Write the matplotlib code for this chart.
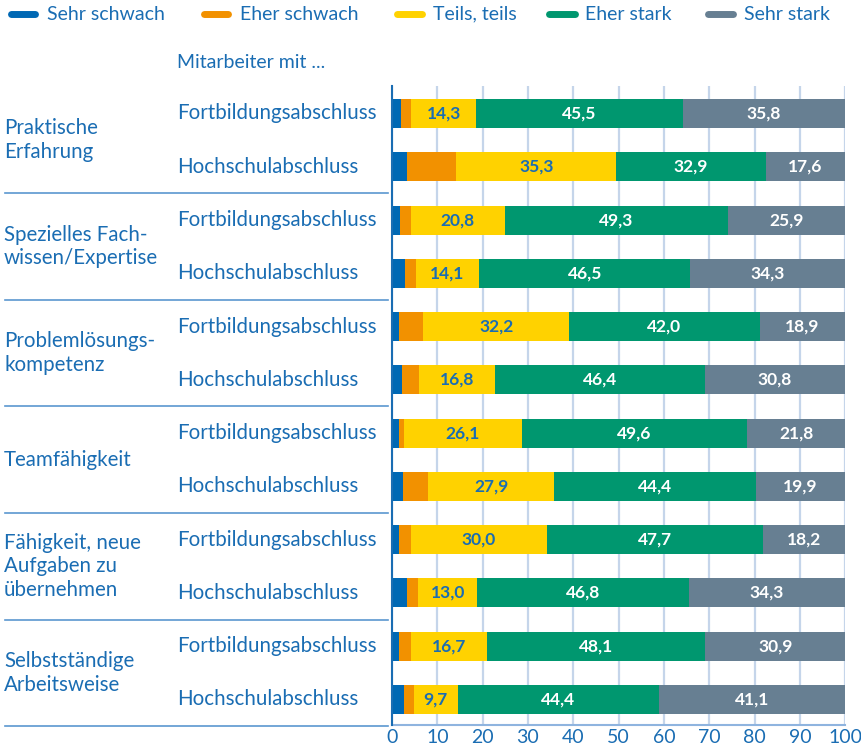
import matplotlib
matplotlib.use("Agg")
import matplotlib.pyplot as plt
from matplotlib.transforms import blended_transform_factory
from matplotlib.lines import Line2D
import numpy as np

plt.rcParams['font.family'] = ['Lato', 'DejaVu Sans']

categories = ["Sehr schwach", "Eher schwach", "Teils, teils", "Eher stark", "Sehr stark"]
groups = ["Praktische\nErfahrung", "Spezielles Fach-\nwissen/Expertise", "Problemlösungs-\nkompetenz",
          "Teamfähigkeit", "Fähigkeit, neue\nAufgaben zu\nübernehmen", "Selbstständige\nArbeitsweise"]
sublabels = ["Fortbildungsabschluss", "Hochschulabschluss"]

sehr_schwach = [1.9, 3.2, 1.7, 2.8, 1.6, 2.1, 1.5, 2.4, 1.5, 3.2, 1.5, 2.7]
eher_schwach = [2.4, 11.0, 2.4, 2.4, 5.3, 3.8, 1.1, 5.5, 2.6, 2.6, 2.8, 2.1]
teils_teils = [14.3, 35.3, 20.8, 14.1, 32.2, 16.8, 26.1, 27.9, 30.0, 13.0, 16.7, 9.7]
eher_stark = [45.5, 32.9, 49.3, 46.5, 42.0, 46.4, 49.6, 44.4, 47.7, 46.8, 48.1, 44.4]
sehr_stark = [35.8, 17.6, 25.9, 34.3, 18.9, 30.8, 21.8, 19.9, 18.2, 34.3, 30.9, 41.1]

xticks = [0, 10, 20, 30, 40, 50, 60, 70, 80, 90, 100]

colors = ["#0068b4", "#f29100", "#ffd200", "#00976f", "#677f92"]
label_colors = [None, None, "#1a6db3", "white", "white"]
TXT = "#1a6db3"

W, H = 861, 751
fig = plt.figure(figsize=(W / 100, H / 100), dpi=100)
ax = fig.add_axes([392 / W, 1 - 725 / H, (845.3 - 392) / W, (725 - 86) / H])

series = [sehr_schwach, eher_schwach, teils_teils, eher_stark, sehr_stark]
n = len(teils_teils)
y = np.arange(n)
left = np.zeros(n)
for vals, col, lc in zip(series, colors, label_colors):
    vals = np.array(vals)
    ax.barh(y, vals, left=left, height=0.545, color=col, zorder=3)
    if lc is not None:
        for yi, (l, v) in enumerate(zip(left, vals)):
            ax.text(l + v / 2, yi, f"{v:.1f}".replace(".", ","), ha="center", va="center",
                    color=lc, fontsize=12.5, fontweight="bold", zorder=4)
    left = left + vals

ax.set_xlim(0, 100)
ax.set_ylim(11.48, -0.516)
ax.set_xticks(xticks)
ax.set_xticklabels([str(t) for t in xticks], color=TXT, fontsize=14)
ax.tick_params(axis="x", length=0, pad=3)
ax.set_yticks([])
ax.grid(axis="x", color="#c5d5ea", linewidth=1.6, zorder=0)
for s in ["top", "right"]:
    ax.spines[s].set_visible(False)
ax.spines["left"].set_color("#1a6db3")
ax.spines["left"].set_linewidth(1.5)
ax.spines["left"].set_zorder(5)
ax.spines["bottom"].set_color("#8fb4df")
ax.spines["bottom"].set_linewidth(1.5)

tr = blended_transform_factory(fig.transFigure, ax.transData)

# sub labels
for i in range(n):
    ax.text(177 / W, i, sublabels[i % 2], transform=tr, ha="left", va="center",
            color=TXT, fontsize=14.8, clip_on=False)

# group labels and separators
for g, name in enumerate(groups):
    yc = 2 * g + 0.5
    ax.text(4 / W, yc, name, transform=tr, ha="left", va="center", color=TXT,
            fontsize=14.8, linespacing=1.22, clip_on=False)
    ysep = 2 * g + 1.5
    ax.add_line(Line2D([5 / W, 388 / W], [ysep, ysep], transform=tr, color="#5b97d0",
                       linewidth=1.2, clip_on=False))

# header
fig.text(177 / W, 1 - 62 / H, "Mitarbeiter mit ...", ha="left", va="center", color=TXT, fontsize=14)

# legend
leg_lines = [(8, 38), (201, 231), (394, 425), (546, 578), (705, 736)]
leg_text_x = [47, 240, 433, 585, 744]
for (x0, x1), tx, col, lab in zip(leg_lines, leg_text_x, colors, categories):
    fig.add_artist(Line2D([x0 / W + 0.004, x1 / W - 0.004], [1 - 14 / H] * 2, transform=fig.transFigure,
                          color=col, linewidth=5, solid_capstyle="round"))
    fig.text(tx / W, 1 - 14 / H, lab, ha="left", va="center", color=TXT, fontsize=14)

fig.savefig("out.png", dpi=100)
